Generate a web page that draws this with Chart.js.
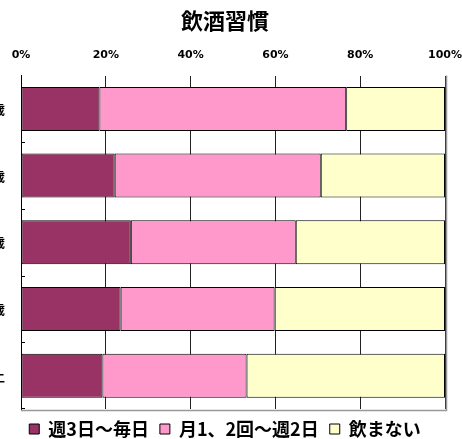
<!DOCTYPE html>
<html>
<head>
<meta charset="utf-8">
<script src="https://cdn.jsdelivr.net/npm/chart.js@4/dist/chart.umd.min.js"></script>
<style>
  html, body { margin: 0; padding: 0; background: #fff; overflow: hidden; }
  #wrap { position: relative; width: 630px; height: 439px; margin-left: -90px; }
</style>
</head>
<body>
<div id="wrap"><canvas id="drinkChart"></canvas></div>
<script>
const ageGroups = ["20～29歳", "30～39歳", "40～49歳", "50～59歳", "60歳以上"];
const seriesNames = ["週3日～毎日", "月1、2回～週2日", "飲まない"];
const often = [18.5, 22.1, 25.9, 23.5, 19.2];
const sometimes = [58.2, 48.6, 38.9, 36.3, 34.0];
const never = [23.3, 29.3, 35.2, 40.2, 46.8];
const tickValues = [0, 20, 40, 60, 80, 100];

const jpFont = "'Noto Sans CJK JP', 'Noto Sans', sans-serif";

// inward ticks on the category axis plus the grey frame on right/bottom
const frameTicks = {
    id: "frameTicks",
    afterDraw(chart) {
        const { ctx, chartArea: a, scales } = chart;
        const y = scales.y;
        ctx.save();
        ctx.strokeStyle = "#999";
        ctx.lineWidth = 1.5;
        ctx.beginPath();
        ctx.moveTo(a.right + 1.5, a.top);
        ctx.lineTo(a.right + 1.5, a.bottom + 1.5);
        ctx.lineTo(a.left, a.bottom + 1.5);
        ctx.stroke();
        ctx.strokeStyle = "#000";
        ctx.lineWidth = 1;
        ctx.beginPath();
        for (let i = 0; i < ageGroups.length - 1; i++) {
            const p = Math.round((y.getPixelForValue(i) + y.getPixelForValue(i + 1)) / 2) + 0.5;
            ctx.moveTo(a.left, p);
            ctx.lineTo(a.left + 4, p);
        }
        ctx.moveTo(a.left, a.bottom - 0.5);
        ctx.lineTo(a.left + 4, a.bottom - 0.5);
        ctx.stroke();
        ctx.restore();
    },
};

new Chart(document.getElementById("drinkChart"), {
    type: "bar",
    data: {
        labels: ageGroups,
        datasets: [
            { label: seriesNames[0], data: often, backgroundColor: "#993366" },
            { label: seriesNames[1], data: sometimes, backgroundColor: "#FF99CC" },
            { label: seriesNames[2], data: never, backgroundColor: "#FFFFCC" },
        ].map(d => Object.assign(d, {
            borderColor: "#000",
            borderWidth: 1,
            borderSkipped: false,
            barPercentage: 0.66,
            categoryPercentage: 1,
        })),
    },
    options: {
        indexAxis: "y",
        responsive: true,
        maintainAspectRatio: false,
        animation: false,
        layout: { padding: { left: 0, right: 0, top: 0, bottom: -9 } },
        plugins: {
            title: {
                display: true,
                text: "飲酒習慣",
                color: "#000",
                font: { family: jpFont, size: 22, weight: "bold" },
                padding: { top: 7, bottom: 1 },
            },
            legend: {
                position: "bottom",
                labels: {
                    color: "#000",
                    boxWidth: 10,
                    boxHeight: 10,
                    padding: 11,
                    font: { family: jpFont, size: 18, weight: "bold", lineHeight: 1 },
                    generateLabels(chart) {
                        return chart.data.datasets.map((d, i) => ({
                            text: d.label,
                            fillStyle: d.backgroundColor,
                            strokeStyle: "#000",
                            lineWidth: 1,
                            datasetIndex: i,
                        }));
                    },
                },
            },
            tooltip: { enabled: false },
        },
        scales: {
            x: {
                position: "top",
                stacked: true,
                min: 0,
                max: 100,
                afterBuildTicks(scale) {
                    scale.ticks = tickValues.map(v => ({ value: v }));
                },
                ticks: {
                    callback: v => v + "%",
                    color: "#000",
                    padding: 14,
                    maxRotation: 0,
                    font: { family: "'DejaVu Sans', sans-serif", size: 11, weight: "bold" },
                },
                grid: { color: "#222", lineWidth: 1, drawTicks: false },
                border: { display: false },
            },
            y: {
                stacked: true,
                afterFit(scale) { scale.width = 111; },
                ticks: {
                    color: "#000",
                    padding: 16,
                    font: { family: jpFont, size: 13, weight: "bold" },
                },
                grid: { display: false, drawTicks: false },
                border: { display: true, color: "#000", width: 1 },
            },
            // empty right-hand axis that keeps room for the last % label
            yRight: {
                type: "category",
                labels: ageGroups,
                position: "right",
                afterFit(scale) { scale.width = 95; },
                ticks: { display: false },
                grid: { display: false, drawTicks: false },
                border: { display: false },
            },
        },
    },
    plugins: [frameTicks],
});
</script>
</body>
</html>
